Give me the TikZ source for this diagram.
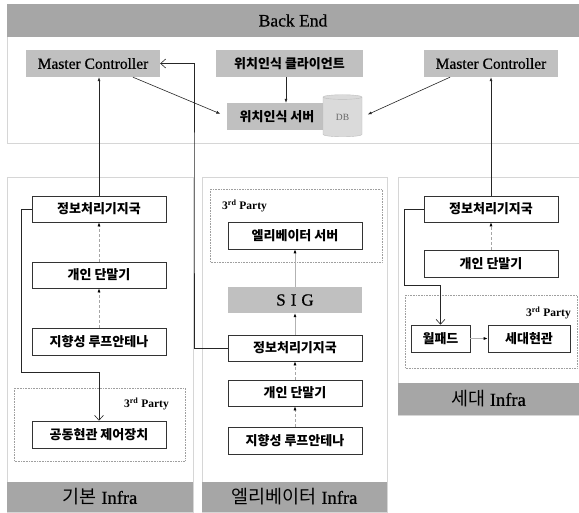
\documentclass[tikz,border=0pt]{standalone}
\usepackage{fontspec}
\setmainfont{Liberation Serif}
\newfontfamily\darkserif[FakeBold=0.6]{Liberation Serif}
\newfontfamily\kr{Noto Sans CJK KR}
\usetikzlibrary{arrows.meta,shapes.geometric,calc}

\definecolor{bandgray}{RGB}{166,166,166}
\definecolor{boxgray}{RGB}{192,192,192}
\definecolor{panelline}{RGB}{214,214,214}
\definecolor{dbfill}{RGB}{218,218,218}
\definecolor{dbline}{RGB}{190,190,190}

\begin{document}
\begin{tikzpicture}[x=1pt,y=-1pt,
  panel/.style={draw=panelline, line width=0.9pt, fill=white},
  band/.style={fill=bandgray, draw=none, inner sep=0pt},
  greybox/.style={fill=boxgray, draw=none, inner sep=0pt, minimum height=27pt},
  unit/.style={draw=black!80, line width=0.6pt, fill=white, inner sep=0pt,
    minimum width=134pt, minimum height=26pt, font=\kr\bfseries\fontsize{13}{13}\selectfont},
  party/.style={draw=gray!75, densely dotted, line width=0.6pt},
  partylabel/.style={font=\bfseries\fontsize{11.5}{11.5}\selectfont, inner sep=0pt},
  link/.style={draw=black!85, line width=0.6pt},
  tip/.style={link, -{Latex[length=4pt,width=3pt]}},
  barb/.style={link, -{Straight Barb[length=5pt,width=9pt,line width=0.6pt]}},
  weak/.style={draw=gray!60, line width=0.7pt, -{Latex[length=4pt,width=3pt,color=black]}},
  hint/.style={draw=gray!70, line width=0.6pt, densely dashed, -{Latex[length=4pt,width=3pt,color=black]}},
  mcfont/.style={font=\darkserif\fontsize{15.5}{15.5}\selectfont},
  krlabel/.style={font=\kr\bfseries\fontsize{13}{13}\selectfont},
  footfont/.style={font=\fontsize{18.5}{18.5}\selectfont}
]
\useasboundingbox (0,0) rectangle (579,512);

% ---------- Back End ----------
\draw[panel] (7,4) rectangle (579,143);
\node[band, minimum width=572pt, minimum height=33pt, font=\darkserif\fontsize{17.5}{17.5}\selectfont]
  (backend) at (293,20.5) {Back End};

\node[greybox, minimum width=134pt, mcfont] (mcL) at (93,63.5) {Master Controller};
\node[greybox, minimum width=147pt, krlabel] (client) at (289.5,63.5) {위치인식 클라이언트};
\node[greybox, minimum width=134pt, mcfont] (mcR) at (491,63.5) {Master Controller};
\node[greybox, minimum width=100pt, krlabel] (server) at (277,116.5) {위치인식 서버};
\node[cylinder, shape border rotate=90, aspect=0.35, draw=dbline, fill=dbfill,
  minimum width=39pt, minimum height=42pt, inner sep=0pt,
  text=gray!80!black, font=\fontsize{9.5}{9.5}\selectfont] (db) at (342.5,117) {\raisebox{-3pt}{DB}};

% ---------- infrastructure panels ----------
\draw[panel] (7,177) rectangle (193,512);
\draw[panel] (202,177) rectangle (387,512);
\draw[panel] (398,177) rectangle (579,415);

\node[band, minimum width=186pt, minimum height=30pt, footfont] (footL) at (100,497)
  {{\kr 기본} {\darkserif Infra}};
\node[band, minimum width=185pt, minimum height=30pt, footfont] (footM) at (294.5,497)
  {{\kr 엘리베이터} {\darkserif Infra}};
\node[band, minimum width=181pt, minimum height=32pt, footfont] (footR) at (488.5,399)
  {{\kr 세대} {\darkserif Infra}};

% third-party frames
\draw[party] (14,388) rectangle (185,461);
\draw[party] (210,189) rectangle (382,262);
\draw[party] (405,295) rectangle (577,368);
\node[partylabel, anchor=east] (partyL) at (169,404) {3\textsuperscript{rd} Party};
\node[partylabel, anchor=west] (partyM) at (222,206) {3\textsuperscript{rd} Party};
\node[partylabel, anchor=east] (partyR) at (571,313) {3\textsuperscript{rd} Party};

% basic infrastructure
\node[unit] (lInfo)  at (99,209)   {정보처리기지국};
\node[unit] (lPhone) at (99,275)   {개인 단말기};
\node[unit, minimum height=27pt] (lAnt) at (99,341.5) {지향성 루프안테나};
\node[unit, minimum height=27pt] (lGate) at (99,434.5) {공동현관 제어장치};

% elevator infrastructure
\node[unit, minimum height=27pt] (elev) at (295,235.5) {엘리베이터 서버};
\node[greybox, minimum width=134pt, minimum height=26pt, font=\darkserif\fontsize{17}{17}\selectfont]
  (sig) at (295,300) {S\hspace{5pt}I\hspace{5pt}G};
\node[unit] (mInfo)  at (295,348)   {정보처리기지국};
\node[unit] (mPhone) at (295,393)   {개인 단말기};
\node[unit, minimum height=27pt] (mAnt) at (295,440.5) {지향성 루프안테나};

% household infrastructure
\node[unit] (rInfo)  at (491,209)   {정보처리기지국};
\node[unit, minimum height=27pt] (rPhone) at (491,263.5) {개인 단말기};
\node[unit, minimum width=59pt, minimum height=27pt] (wallpad) at (440.5,338.5) {월패드};
\node[unit, minimum width=82pt, minimum height=27pt] (door) at (529,338.5) {세대현관};

% ---------- connectors ----------
\coordinate (cs) at ([xshift=-3.5pt]client.south);
\draw[tip] (cs) -- (cs |- server.north);
\draw[tip, shorten >=7pt] ([xshift=40pt]mcL.south) -- (server.west);
\draw[tip, shorten >=6pt] ([xshift=-41pt]mcR.south) -- (db.east);

\draw[tip] (lInfo.north) -- (lInfo.north |- mcL.south);
\draw[tip] (rInfo.north) -- (rInfo.north |- mcR.south);

\coordinate (mBend) at (194,200);
\draw[barb] (mInfo.west) -| (mBend) |- (mcL.east);

\coordinate (lBend) at (21,372);
\draw[barb] (lInfo.west) -| (lBend) -| (lGate.north);

\coordinate (rBend) at (404,285);
\draw[barb] (rInfo.west) -| (rBend) -| (wallpad.north);

\draw[hint] (lPhone.north) -- (lInfo.south);
\draw[hint] (lAnt.north) -- (lPhone.south);
\draw[hint] (mPhone.north) -- (mInfo.south);
\draw[hint] (mAnt.north) -- (mPhone.south);
\draw[hint] (rPhone.north) -- (rInfo.south);

\draw[weak] (mInfo.north) -- (sig.south);
\draw[weak] (sig.north) -- (elev.south);
\draw[weak] (wallpad.east) -- (door.west);
\end{tikzpicture}
\end{document}
